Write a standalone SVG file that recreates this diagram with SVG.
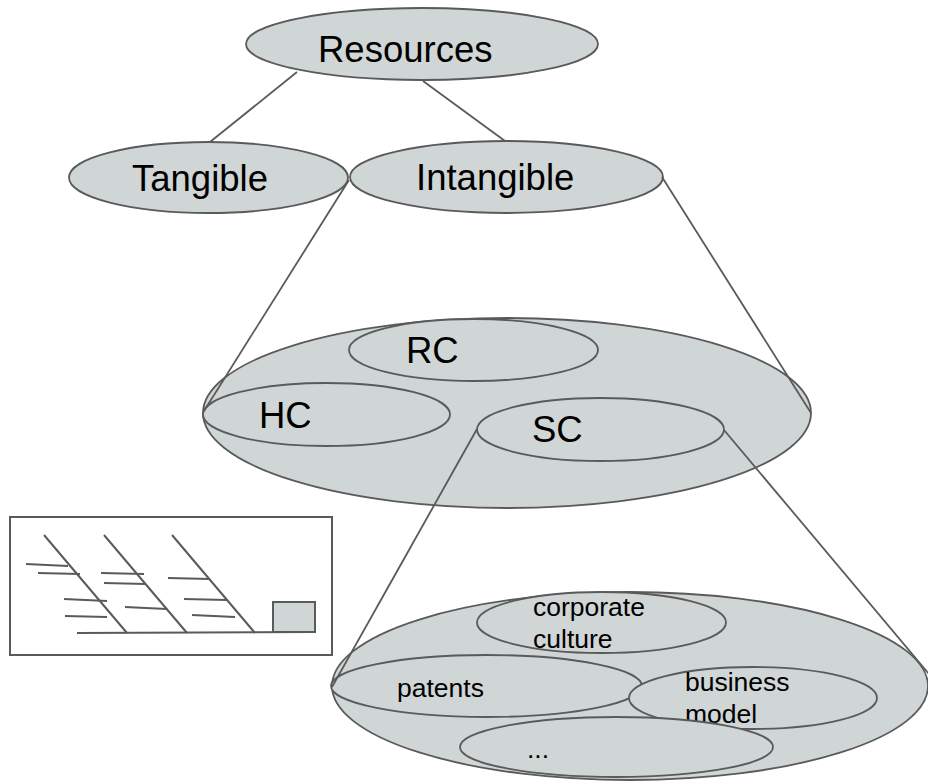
<svg xmlns="http://www.w3.org/2000/svg" width="928" height="781" viewBox="0 0 928 781">
<style>
.n{fill:#d0d5d5;stroke:#5a5a5a;stroke-width:1.8}
.o{fill:none;stroke:#5a5a5a;stroke-width:1.8}
.c line{stroke:#5a5a5a;stroke-width:1.8}
.f line{stroke:#5a5a5a;stroke-width:2}
.L{font-family:"Liberation Sans",Arial,sans-serif;font-size:36.5px;fill:#000}
.S{font-family:"Liberation Sans",Arial,sans-serif;font-size:26.5px;fill:#000}
</style>
<rect width="928" height="781" fill="#fff"/>
<g id="resources"><ellipse class="n" cx="422" cy="44" rx="176" ry="36"/><text class="L" x="318" y="62">Resources</text></g>
<g id="tangible"><ellipse class="n" cx="208.5" cy="177.5" rx="139.5" ry="35.5"/><text class="L" x="132" y="191">Tangible</text></g>
<g id="intangible"><ellipse class="n" cx="506.5" cy="177" rx="156.5" ry="36"/><text class="L" x="416" y="190">Intangible</text></g>
<g id="ic"><ellipse class="n" cx="507" cy="413" rx="304" ry="95"/></g>
<g id="rc"><ellipse class="n" cx="473.5" cy="350" rx="124.5" ry="31"/><text class="L" x="406" y="363">RC</text></g>
<g id="hc"><ellipse class="n" cx="326.5" cy="414.5" rx="123.5" ry="31.5"/><text class="L" x="259" y="428">HC</text></g>
<g id="sc"><ellipse class="n" cx="600.5" cy="429.5" rx="123.5" ry="31.5"/><text class="L" x="532" y="442">SC</text></g>
<g id="sc-detail"><ellipse class="n" cx="630" cy="686" rx="298" ry="94"/></g>
<g id="corporate-culture"><ellipse class="n" cx="601.5" cy="622.5" rx="124.5" ry="30.5"/><text class="S" x="533" y="616">corporate</text><text class="S" x="533" y="648">culture</text></g>
<g id="patents"><ellipse class="n" cx="486.5" cy="686" rx="155.5" ry="31"/><text class="S" x="397" y="697">patents</text></g>
<g id="business-model"><ellipse class="n" cx="753" cy="698" rx="124" ry="31"/><text class="S" x="685" y="691">business</text><text class="S" x="685" y="723">model</text></g>
<g id="etc"><ellipse class="n" cx="616.5" cy="747" rx="156.5" ry="30"/><text class="S" x="527" y="758">...</text></g>
<g id="connectors" class="c">
<line x1="297" y1="72" x2="210" y2="142"/>
<line x1="423" y1="81" x2="505" y2="141"/>
<line x1="349" y1="180" x2="204" y2="411"/>
<line x1="662" y1="177" x2="811" y2="413"/>
<line x1="477" y1="429" x2="332" y2="687"/>
<line x1="724" y1="430" x2="929" y2="674"/>
</g>
<g id="fishbone" class="f">
<rect x="10" y="517" width="322" height="138" fill="#fff" stroke="#5a5a5a" stroke-width="2"/>
<line x1="77" y1="633" x2="315" y2="632"/>
<line x1="44" y1="535" x2="127" y2="633"/>
<line x1="104" y1="535" x2="187" y2="633"/>
<line x1="172" y1="535" x2="255" y2="633"/>
<line x1="26" y1="564" x2="68" y2="566"/>
<line x1="38" y1="573" x2="80" y2="574"/>
<line x1="64" y1="599" x2="107" y2="601"/>
<line x1="65" y1="616" x2="107" y2="617"/>
<line x1="101" y1="573" x2="144" y2="574"/>
<line x1="104" y1="583" x2="146" y2="584"/>
<line x1="125" y1="607" x2="167" y2="609"/>
<line x1="168" y1="578" x2="210" y2="579"/>
<line x1="184" y1="599" x2="227" y2="600"/>
<line x1="192" y1="615" x2="235" y2="617"/>
<rect x="273" y="602" width="42" height="30" fill="#d0d5d5" stroke="#5a5a5a" stroke-width="2"/>
</g>
</svg>
